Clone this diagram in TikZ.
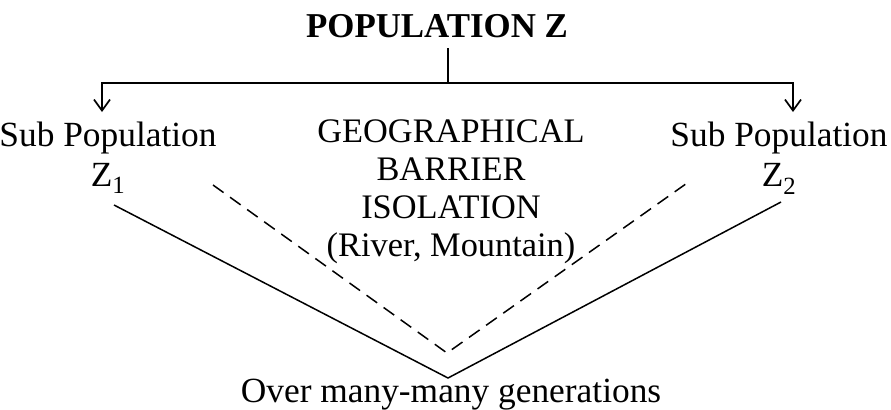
\documentclass[tikz,border=0pt]{standalone}
\usepackage{fontspec}
\setmainfont{Liberation Serif}
\usetikzlibrary{arrows.meta, positioning}

\begin{document}
\begin{tikzpicture}[x=1bp, y=-1bp, >={Straight Barb[length=11bp, width=16bp, line width=1.7bp]},
  line width=1.5bp,
  txt/.style={font=\fontsize{35.5}{40}\selectfont, align=center, inner sep=0pt},
  isolation/.style={dash pattern=on 13bp off 8bp}]
  \useasboundingbox (0,0) rectangle (891,409);

  % titles and groups
  \node[txt, font=\bfseries\fontsize{35}{40}\selectfont, anchor=base, outer ysep=11bp]
    (popZ) at (437,37) {POPULATION Z};
  \node[txt, anchor=north] (subA) at (108,121) {Sub Population\\Z\textsubscript{1}};
  \node[txt, anchor=north] (subB) at (779,121) {Sub Population\\Z\textsubscript{2}};
  \node[txt, font=\fontsize{34.5}{38.3}\selectfont, anchor=north] (barrier) at (451,119)
    {GEOGRAPHICAL\\BARRIER\\ISOLATION\\(River, Mountain)};
  \node[txt, anchor=base] (gens) at (451,402) {Over many-many generations};

  % split into two sub populations
  \coordinate (split) at (448,83);
  \coordinate (arrA) at (102,112);
  \coordinate (arrB) at (793,112);
  \draw (popZ.south -| split) -- (split);
  \draw[->] (split) -| (arrA);
  \draw[->] (split) -| (arrB);

  % convergence over generations
  \coordinate (solidA) at (114,205);
  \coordinate (solidB) at (781,202);
  \coordinate (vtx) at (448,378);
  \coordinate (dashA) at (213,185);
  \coordinate (dashB) at (690,181);
  \coordinate (dvtx) at (447,353);
  \draw (solidA) -- (vtx) -- (solidB);
  \draw[isolation] (dashA) -- (dvtx) -- (dashB);
\end{tikzpicture}
\end{document}
